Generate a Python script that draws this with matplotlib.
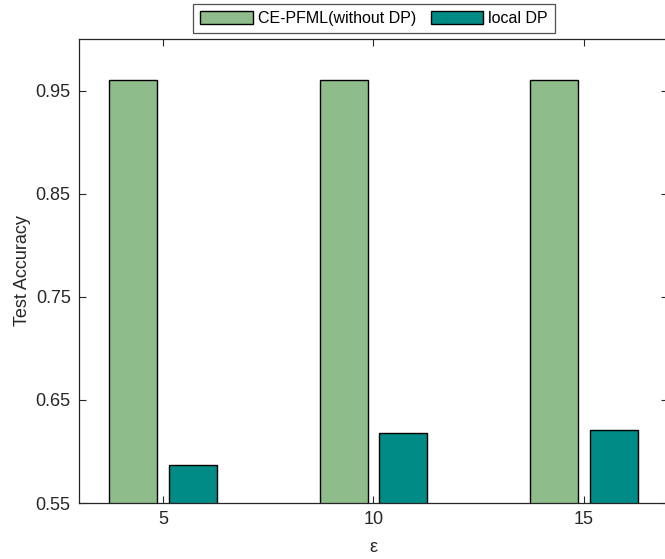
import numpy as np
import matplotlib.pyplot as plt

plt.rcParams['font.family'] = ['Liberation Sans', 'DejaVu Sans']

# данные
eps = np.array([5, 10, 15])
acc_nodp = [0.96, 0.96, 0.96]
acc_local = [0.587, 0.618, 0.621]
labels = ['CE-PFML(without DP)', 'local DP']

W, H = 665, 559
fig = plt.figure(figsize=(W / 100, H / 100), dpi=100)
ax = fig.add_axes([79 / W, 56 / H, 589 / W, 464 / H])

gray = '#262626'
ax.bar(eps - 0.71, acc_nodp, width=1.14, color='#8fbc8b', edgecolor='black', linewidth=1, label=labels[0])
ax.bar(eps + 0.71, acc_local, width=1.14, color='#008b87', edgecolor='black', linewidth=1, label=labels[1])

ax.set_xlim(3, 17)
ax.set_ylim(0.55, 1.0)
ax.set_xticks(eps)
ax.set_yticks([0.55, 0.65, 0.75, 0.85, 0.95])
ax.set_yticklabels(['0.55', '0.65', '0.75', '0.85', '0.95'])
ax.tick_params(direction='in', top=True, right=True, length=5, width=0.8,
               colors=gray, labelsize=13, pad=6)
for s in ax.spines.values():
    s.set_color(gray)
    s.set_linewidth(0.9)

ax.set_xlabel('ε', fontsize=13, color=gray, labelpad=8)
ax.set_ylabel('Test Accuracy', fontsize=13, color=gray, labelpad=3)

leg = ax.legend(loc='center', ncol=2, bbox_to_anchor=(374 / W, 1 - 18.5 / H),
                bbox_transform=fig.transFigure, fontsize=11.5, frameon=True,
                fancybox=False, handlelength=3.3, handleheight=0.85,
                columnspacing=0.9, handletextpad=0.3, borderpad=0.45,
                borderaxespad=0)
leg.get_frame().set_edgecolor(gray)
leg.get_frame().set_linewidth(0.9)

fig.savefig('out.png', dpi=100)
